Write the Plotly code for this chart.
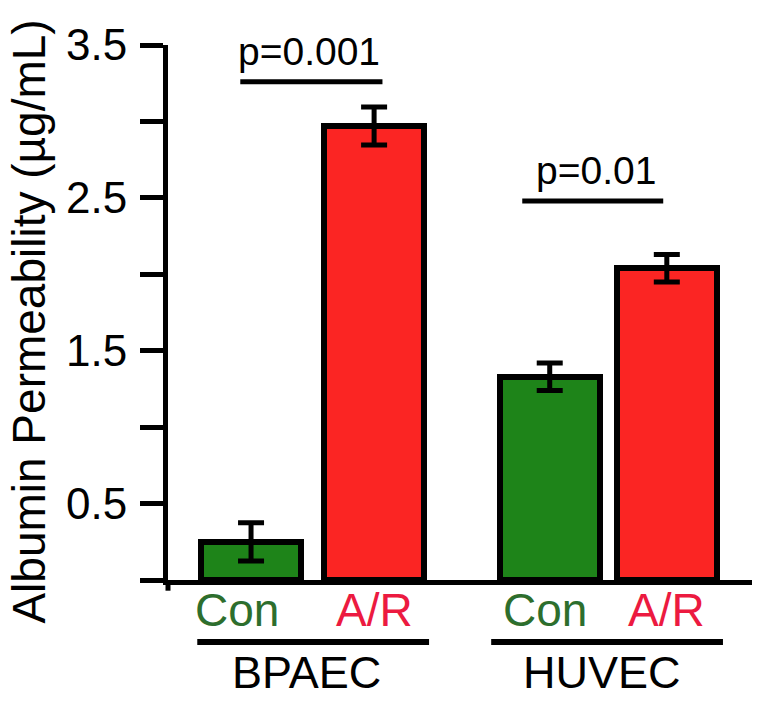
import plotly.graph_objects as go

# ---- data ----
groups = ["BPAEC", "BPAEC", "HUVEC", "HUVEC"]
conditions = ["Con", "A/R", "Con", "A/R"]
values = [0.25, 2.97, 1.33, 2.04]
errors = [0.125, 0.125, 0.09, 0.09]
p_labels = ["p=0.001", "p=0.01"]
y_tickvals = [0, 0.5, 1.0, 1.5, 2.0, 2.5, 3.0, 3.5]
y_ticktext = ["", "0.5", "", "1.5", "", "2.5", "", "3.5"]

# ---- layout helpers ----
positions = [0, 1.03, 2.5, 3.48]
bar_colors = ["#1e8419", "#fb2523", "#1e8419", "#fb2523"]
label_colors = {"Con": "#2d6e2d", "A/R": "#ec1a40"}
FONT = "Liberation Sans, Arial, sans-serif"

fig = go.Figure()
fig.add_trace(go.Bar(
    x=positions, y=values, width=0.84,
    marker=dict(color=bar_colors, line=dict(color="black", width=6)),
    error_y=dict(type="data", array=errors, visible=True,
                 color="black", thickness=5, width=13),
    showlegend=False, hoverinfo="skip",
))

annotations = []
shapes = []

def txt(x, y, text, size, color, xref="x", yref="paper", angle=0):
    return dict(x=x, y=y, xref=xref, yref=yref, text=text, showarrow=False,
                xanchor="center", yanchor="middle", textangle=angle,
                font=dict(family=FONT, size=size, color=color))

# condition labels under bars
label_offsets = [-0.12, 0.0, -0.04, 0.0]
for pos, cond, off in zip(positions, conditions, label_offsets):
    annotations.append(txt(pos + off, -0.057, cond, 46, label_colors[cond]))

# group lines and names
group_line_off = [(-0.45, 0.46), (-0.49, 0.47)]
for i, g in enumerate(["BPAEC", "HUVEC"]):
    a, b = positions[2 * i], positions[2 * i + 1]
    o0, o1 = group_line_off[i]
    shapes.append(dict(type="line", xref="x", yref="paper",
                       x0=a + o0, x1=b + o1, y0=-0.116, y1=-0.116,
                       line=dict(color="black", width=6)))
    annotations.append(txt((a + b) / 2 - 0.05, -0.172, g, 45, "black"))

# p-value brackets
p_line_y = [3.26, 2.48]
p_text_y = [3.46, 2.68]
p_line_off = [(-0.09, 0.07), (-0.23, -0.03)]
p_text_off = [-0.03, -0.10]
for i, lab in enumerate(p_labels):
    a, b = positions[2 * i], positions[2 * i + 1]
    o0, o1 = p_line_off[i]
    shapes.append(dict(type="line", xref="x", yref="y",
                       x0=a + o0, x1=b + o1, y0=p_line_y[i], y1=p_line_y[i],
                       line=dict(color="black", width=5)))
    annotations.append(txt((a + b) / 2 + p_text_off[i], p_text_y[i], lab, 39,
                           "black", yref="y"))

# y-axis line extension below baseline
shapes.append(dict(type="line", xref="paper", yref="paper", x0=0, x1=0,
                   y0=0, y1=-0.02, line=dict(color="black", width=5)))

# y-axis title
annotations.append(txt(-0.238, 0.483, "Albumin Permeability (µg/mL)", 46, "black",
                       xref="paper", yref="paper", angle=-90))

fig.update_layout(
    width=765, height=701,
    margin=dict(l=160, r=21, t=25, b=129),
    paper_bgcolor="white", plot_bgcolor="white",
    bargap=0,
    xaxis=dict(range=[-0.695, 4.193], showline=True, linecolor="black",
               linewidth=5, showticklabels=False, ticks="", showgrid=False,
               zeroline=False, fixedrange=True),
    yaxis=dict(range=[0, 3.5], tickvals=y_tickvals, ticktext=y_ticktext,
               showline=True, linecolor="black", linewidth=5,
               ticks="outside", ticklen=23, tickwidth=5, tickcolor="black",
               ticklabelstandoff=4,
               tickfont=dict(family=FONT, size=44, color="black"),
               showgrid=False, zeroline=False, fixedrange=True),
    annotations=annotations,
    shapes=shapes,
)

fig.write_html("out.html")
